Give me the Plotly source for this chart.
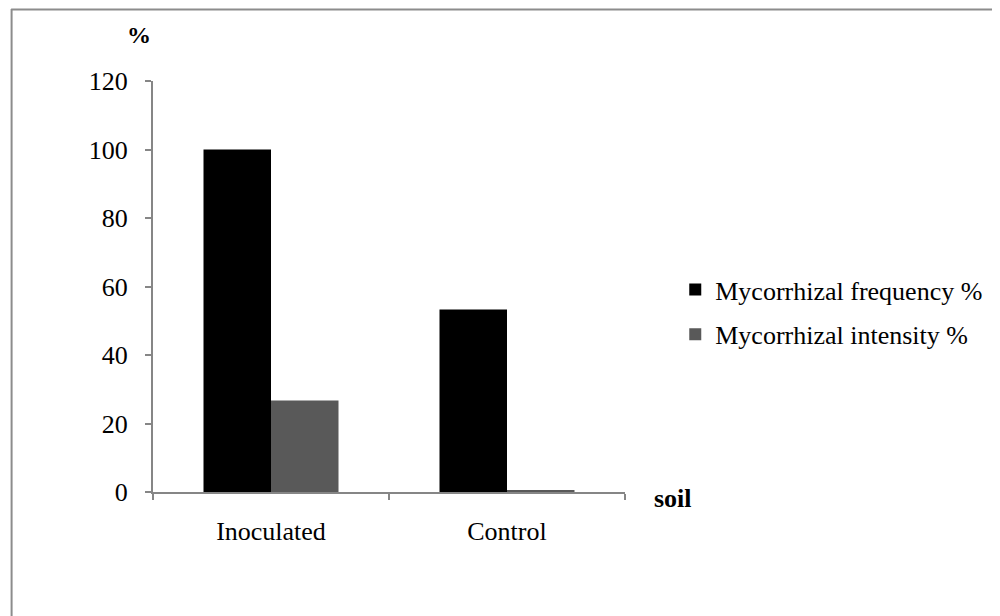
import plotly.graph_objects as go

categories = ["Inoculated", "Control"]
frequency = [100, 53.3]
intensity = [26.7, 0.5]
series_names = ["Mycorrhizal frequency %", "Mycorrhizal intensity %"]
y_ticks = [0, 20, 40, 60, 80, 100, 120]

# page body adds an 8px offset; compensate so the figure lands on screen coords
OFF = 8
W, H = 1000 - OFF, 616 - OFF
# plot area in screen pixels
PL, PR, PT, PB = 153, 632, 81, 492
L, T = PL - OFF, PT - OFF
R, B = W - (PR - OFF), H - (PB - OFF)
pw, ph = PR - PL, PB - PT

def px_x(x):
    return (x - PL) / pw

def px_y(y):
    return (PB - y) / ph

FONT = "Liberation Serif, Times New Roman, serif"
AX = "#868686"

fig = go.Figure()
fig.add_trace(go.Bar(x=categories, y=frequency, name=series_names[0],
                     marker=dict(color="#000000", line=dict(width=0)),
                     legendgroup="a"))
fig.add_trace(go.Bar(x=categories, y=intensity, name=series_names[1],
                     marker=dict(color="#595959", line=dict(width=0)),
                     legendgroup="b"))

fig.update_layout(
    width=W, height=H,
    margin=dict(l=L, r=R, t=T, b=B, pad=0),
    paper_bgcolor="white", plot_bgcolor="white",
    barmode="group", bargap=0.428, bargroupgap=0,
    font=dict(family=FONT, size=26, color="black"),
    showlegend=True,
    legend=dict(x=px_x(683), y=px_y(266), xanchor="left", yanchor="top",
                font=dict(family=FONT, size=26, color="black"),
                tracegroupgap=8, traceorder="grouped",
                bgcolor="rgba(0,0,0,0)"),
    xaxis=dict(type="category", showline=True, linecolor=AX, linewidth=2,
               ticks="outside", tickson="boundaries", ticklen=6, tickcolor=AX,
               tickwidth=1.5, showgrid=False, zeroline=False,
               ticklabelstandoff=15,
               tickfont=dict(family=FONT, size=26, color="black")),
    yaxis=dict(range=[0, 120], tickvals=y_ticks, showline=True, linecolor=AX,
               linewidth=2, ticks="outside", ticklen=6, tickcolor=AX,
               tickwidth=1.5, showgrid=False, zeroline=False,
               ticklabelstandoff=12,
               tickfont=dict(family=FONT, size=26, color="black")),
    shapes=[
        dict(type="line", xref="paper", yref="paper",
             x0=px_x(9), x1=px_x(1010), y0=px_y(9.5), y1=px_y(9.5),
             line=dict(color="#8c8c8c", width=2)),
        dict(type="line", xref="paper", yref="paper",
             x0=px_x(9.5), x1=px_x(9.5), y0=px_y(9), y1=px_y(630),
             line=dict(color="#8c8c8c", width=2)),
    ],
    annotations=[
        dict(text="<b>%</b>", xref="paper", yref="paper", x=px_x(139), y=px_y(35),
             xanchor="center", yanchor="middle", showarrow=False,
             font=dict(family=FONT, size=24, color="black")),
        dict(text="<b>soil</b>", xref="paper", yref="paper", x=px_x(659), y=px_y(498),
             xanchor="left", yanchor="middle", showarrow=False,
             font=dict(family=FONT, size=26, color="black")),
    ],
)

fig.write_html("out.html")
